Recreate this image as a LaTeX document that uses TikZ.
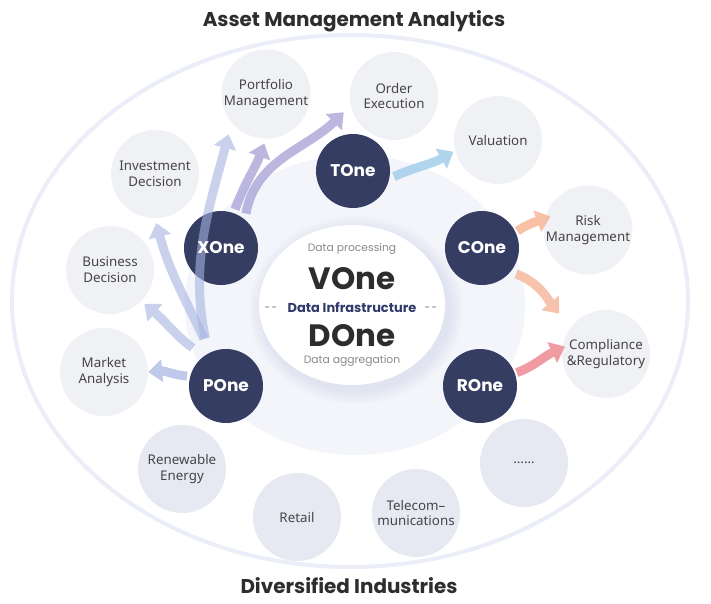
\documentclass[tikz,border=0pt]{standalone}
\usepackage{fontspec}
\setmainfont{Noto Sans}
\newfontfamily\pop{Poppins}
\usetikzlibrary{arrows.meta}
\pgfdeclarelayer{bglayer}
\pgfdeclarelayer{arrlayer}
\pgfsetlayers{bglayer,arrlayer,main}
\definecolor{navy}{HTML}{363D62}
\definecolor{ringc}{HTML}{EBEEF8}
\definecolor{discc}{HTML}{F3F5FA}
\definecolor{topicc}{HTML}{F0F1F4}
\definecolor{indc}{HTML}{E7E9F2}
\definecolor{labc}{HTML}{454545}
\definecolor{titc}{HTML}{2D2D2D}
\definecolor{infc}{HTML}{2E3A6B}
\definecolor{midg}{HTML}{8A8A8A}
\definecolor{glowc}{HTML}{C9D0EE}
\definecolor{arrblue}{HTML}{A5B3E0}
\definecolor{arrpurp}{HTML}{ACA5D8}
\definecolor{arrsky}{HTML}{9FCBEA}
\definecolor{arrpeach}{HTML}{F6B598}
\definecolor{arrpink}{HTML}{EE8A92}
\tikzset{
  darknode/.style={circle, minimum size=74bp, inner sep=0pt, text=white,
    font=\pop\bfseries\fontsize{17}{20}\selectfont},
  darkfill/.style={fill=navy},
  topic/.style={circle, fill=topicc, minimum size=88bp, inner sep=0pt, text=labc,
    align=center, font=\fontsize{13.4}{16}\selectfont},
  industry/.style={topic, fill=indc},
  titletext/.style={text=titc, font=\pop\bfseries\fontsize{20}{23}\selectfont},
  bigtext/.style={text=titc, font=\pop\bfseries\fontsize{31}{34}\selectfont, inner sep=0pt},
  smalltext/.style={text=midg, font=\pop\fontsize{10.8}{12}\selectfont, inner sep=0pt},
  infratext/.style={text=infc, font=\pop\bfseries\fontsize{13}{15}\selectfont, inner sep=0pt},
  dashline/.style={draw=gray!45, line width=1.3bp, dash pattern=on 4bp off 3bp},
  fatarrow/.style={line width=9bp, -{Triangle[length=14bp,width=22bp]}},
}
\begin{document}
\begin{tikzpicture}[x=1bp,y=-1bp]
\useasboundingbox (0,0) rectangle (711,604);

% titles
\node[titletext] (ttop) at (354,21) {Asset Management Analytics};
\node[titletext] (tbot) at (349,586) {Diversified Industries};

% central texts
\node[smalltext] (dproc) at (352,249) {Data processing};
\node[bigtext] (vone) at (352,279) {VOne};
\node[infratext] (dinf) at (352,307) {Data Infrastructure};
\node[bigtext] (done) at (352,336) {DOne};
\node[smalltext] (dagg) at (352,361) {Data aggregation};
\draw[dashline] ([xshift=-22bp]dinf.west) -- ([xshift=-8bp]dinf.west);
\draw[dashline] ([xshift=8bp]dinf.east) -- ([xshift=22bp]dinf.east);

% dark nodes (labels on top layer)
\node[darknode] (tone) at (353,171) {TOne};
\node[darknode] (xone) at (221,248) {XOne};
\node[darknode] (cone) at (482,248) {COne};
\node[darknode] (pone) at (226,386) {POne};
\node[darknode] (rone) at (480,386) {ROne};

\begin{pgfonlayer}{bglayer}
\fill[white] (0,0) rectangle (711,604);
% outer ring
\draw[ringc, line width=4bp] (350,301) ellipse [x radius=338, y radius=266];
% inner disc
\fill[discc] (355,305) ellipse [x radius=170, y radius=150];
% glow of central ellipse
\foreach \k in {1,...,10}{
  \fill[glowc, opacity=0.045] (356,310) ellipse [x radius={92+1.5*\k}, y radius={79+1.5*\k}];
}
\fill[white] (352,305) ellipse [x radius=93, y radius=80];
% topic circles
\node[topic] (port) at (266,94) {Portfolio\\Management};
\node[topic] (order) at (394,96) {Order\\Execution};
\node[topic] (val) at (498,140) {Valuation};
\node[topic] (risk) at (588,230) {Risk\\Management};
\node[topic] (comp) at (606,354) {Compliance\\\&Regulatory};
\node[topic] (inv) at (155,174) {Investment\\Decision};
\node[topic] (bus) at (110,270) {Business\\Decision};
\node[topic] (mkt) at (104,372) {Market\\Analysis};
% industries
\node[industry] (ren) at (182,469) {Renewable\\Energy};
\node[industry] (ret) at (297,517) {Retail};
\node[industry] (tel) at (416,513) {Telecom--\\munications};
\node[industry] (more) at (524,463) {......};
% dark discs
\foreach \n in {tone,xone,cone,pone,rone}{
  \fill[darkfill] (\n.center) circle [radius=37bp];
}
\end{pgfonlayer}

% arrows
\begin{pgfonlayer}{arrlayer}
\begin{scope}[transparency group, opacity=0.8]
\draw[fatarrow, arrsky, shorten <=5bp, shorten >=2bp] (tone.-12) to[out=25, in=-150] (val.194);
\end{scope}
\begin{scope}[transparency group, opacity=0.85]
\draw[fatarrow, arrpeach, shorten <=2bp, shorten >=-6bp] (cone.25) to[out=35, in=-160] (risk.165);
\end{scope}
\begin{scope}[transparency group, opacity=0.8]
\draw[fatarrow, arrpeach, shorten <=6bp, shorten >=18bp] (cone.-40) to[out=-20, in=130] (comp.143);
\end{scope}
\begin{scope}[transparency group, opacity=0.85]
\draw[fatarrow, arrpink, shorten <=2bp, shorten >=-3bp] (rone.20) to[out=20, in=-155] (comp.172);
\end{scope}
\begin{scope}[transparency group, opacity=0.8]
\draw[fatarrow, arrpurp, shorten <=6bp, shorten >=10bp] (xone.50) to[out=80, in=-135] (order.192);
\end{scope}
\begin{scope}[transparency group, opacity=0.8]
\draw[fatarrow, arrpurp, shorten <=4bp, shorten >=5bp] (xone.70) to[out=70, in=-110] (port.270);
\end{scope}
\begin{scope}[transparency group, opacity=0.6]
\draw[fatarrow, arrblue, shorten <=15bp, shorten >=12bp] (pone.118) to[out=102, in=-105] (port.220);
\end{scope}
\begin{scope}[transparency group, opacity=0.6]
\draw[fatarrow, arrblue, shorten <=15bp, shorten >=5bp] (pone.115) to[out=115, in=-75] (inv.270);
\end{scope}
\begin{scope}[transparency group, opacity=0.6]
\draw[fatarrow, arrblue, shorten <=14bp, shorten >=4bp] (pone.126) to[out=145, in=-40] (bus.315);
\end{scope}
\begin{scope}[transparency group, opacity=0.7]
\draw[fatarrow, arrblue, shorten <=3bp, shorten >=0bp] (pone.165) to[out=175, in=5] (mkt.0);
\end{scope}
\end{pgfonlayer}
\end{tikzpicture}
\end{document}
